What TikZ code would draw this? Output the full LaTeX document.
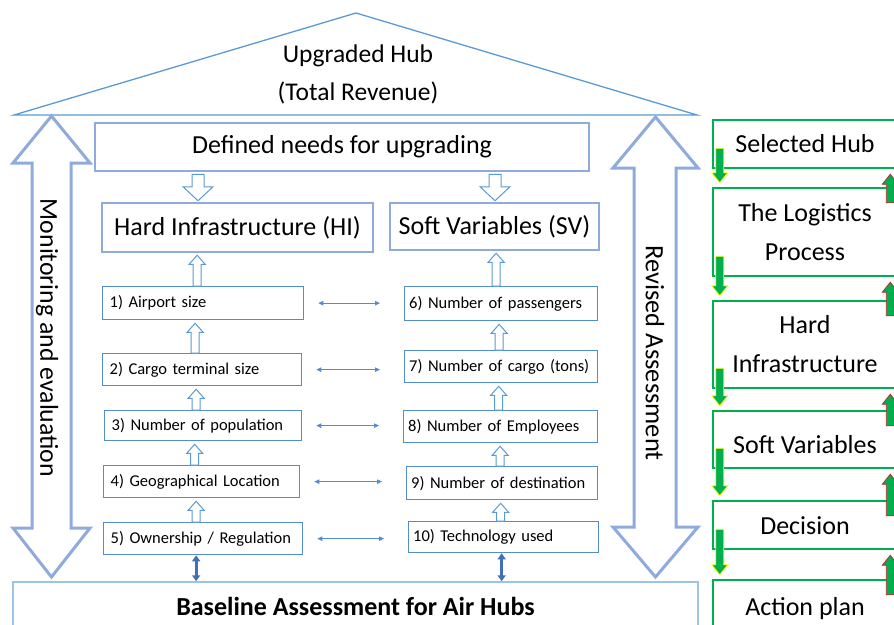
\documentclass[tikz,border=0pt]{standalone}
\usepackage{fontspec}
\setmainfont{Carlito}
\usetikzlibrary{calc,arrows.meta}

\definecolor{roofblue}{RGB}{91,155,213}
\definecolor{paleblue}{RGB}{143,170,220}
\definecolor{itemblue}{RGB}{84,141,205}
\definecolor{baseblue}{RGB}{157,195,230}
\definecolor{darkblue}{RGB}{65,113,180}
\definecolor{hubgreen}{RGB}{0,176,80}
\definecolor{tipyellow}{RGB}{255,255,0}
\definecolor{tipred}{RGB}{200,40,40}

% block arrow: style, start, tip, half shaft, half head, signed head length
\newcommand\blockarrow[6]{%
  \path[#1] let \p1=(#2), \p2=(#3) in
    (\x1-#4,\y1) -- (\x1-#4,\y2#6) -- (\x1-#5,\y2#6) -- (\x1,\y2)
    -- (\x1+#5,\y2#6) -- (\x1+#4,\y2#6) -- (\x1+#4,\y1) -- cycle;}

\begin{document}
\begin{tikzpicture}[x=1pt,y=-1pt,
  bigfont/.style={font=\fontsize{26}{31}\selectfont},
  headbox/.style={draw=paleblue, line width=2.5pt, bigfont, inner sep=0pt},
  item/.style={draw=itemblue, line width=1.3pt, font=\fontsize{16.5}{20}\selectfont,
    align=left, inner xsep=7pt, inner ysep=0pt, anchor=north west},
  itemr/.style={item, inner xsep=4.5pt},
  stepbox/.style={draw=hubgreen, line width=2.5pt, bigfont, align=center,
    inner sep=0pt, minimum width=184pt},
  hollow/.style={draw=roofblue, line width=1pt, fill=white},
  bigarrow/.style={draw=paleblue, line width=3pt, fill=white, line join=miter},
  link/.style={draw=itemblue, line width=0.8pt, {Triangle[length=5pt,width=4.5pt]}-{Triangle[length=5pt,width=4.5pt]}},
  feed/.style={draw=darkblue, line width=3pt, {Triangle[length=6pt,width=8pt]}-{Triangle[length=6pt,width=8pt]}},
  godown/.style={fill=hubgreen, draw=tipyellow, line width=0.8pt},
  goup/.style={fill=hubgreen, draw=tipred, line width=0.8pt},
]
\useasboundingbox (0,0) rectangle (894,624);
\clip (0,0) rectangle (894,624);
\fill[white] (0,0) rectangle (894,624);

% roof
\draw[roofblue, line width=1.3pt, line join=miter] (14,115) -- (356,13) -- (697,115) -- cycle;
\node[font=\fontsize{25.5}{38}\selectfont, align=center] (roof) at (358,74) {Upgraded Hub\\(Total Revenue)};

% side double arrows
\draw[bigarrow] (51.5,116) -- (90,163) -- (71,163) -- (71,528) -- (90,528) -- (51.5,577)
  -- (13,528) -- (32,528) -- (32,163) -- (13,163) -- cycle;
\node[rotate=-90, font=\fontsize{25.8}{30}\selectfont] (monitor) at (47,338) {Monitoring and evaluation};
\draw[bigarrow] (655.5,117) -- (698,168) -- (676,168) -- (676,527) -- (698,527) -- (655.5,577)
  -- (613,527) -- (634,527) -- (634,168) -- (613,168) -- cycle;
\node[rotate=-90, font=\fontsize{26.5}{30}\selectfont] (revised) at (655,353) {Revised Assessment};

% headline boxes
\node[headbox, minimum width=494pt, minimum height=48pt] (def) at (342,147) {Defined needs for upgrading};
\node[headbox, minimum width=271pt, minimum height=49pt] (hi) at (237.5,227.5) {Hard Infrastructure (HI)};
\node[headbox, minimum width=209pt, minimum height=47pt] (sv) at (494.5,226.5) {Soft Variables (SV)};

% hard infrastructure items
\node[item, text width=187pt, minimum height=33pt] (h1) at (102,286) {1) Airport size};
\node[item, text width=185pt, minimum height=32pt] (h2) at (102,353) {2) Cargo terminal size};
\node[item, text width=183pt, minimum height=30pt] (h3) at (104,410) {3) Number of population};
\node[item, text width=182pt, minimum height=32pt] (h4) at (103,465) {4) Geographical Location};
\node[item, text width=185pt, minimum height=32pt] (h5) at (103,522) {5) Ownership / Regulation};

% soft variable items
\node[itemr, text width=184pt, minimum height=34pt] (s1) at (404,286) {6) Number of passengers};
\node[itemr, text width=184pt, minimum height=32pt] (s2) at (404,350) {7) Number of cargo (tons)};
\node[itemr, text width=185pt, minimum height=32pt] (s3) at (403,410) {8) Number of Employees};
\node[itemr, text width=182pt, minimum height=33pt] (s4) at (406,466) {9) Number of destination};
\node[itemr, text width=181pt, minimum height=31pt] (s5) at (408,521) {10) Technology used};

% baseline
\node[draw=baseblue, line width=1.5pt, minimum width=685pt, minimum height=48pt,
  font=\fontsize{26}{31}\selectfont\bfseries] (base) at (355.5,606) {Baseline Assessment for Air Hubs};

% needs split into the two groups
\blockarrow{hollow}{$(def.south)+(-144,2)$}{$(hi.north)+(0,-1)$}{6pt}{15pt}{+14pt}
\blockarrow{hollow}{$(def.south)+(153,2)$}{$(sv.north)+(0,-1)$}{6pt}{15pt}{+14pt}

% items feeding upwards
\blockarrow{hollow}{$(h1.north)+(-6,0)$}{$(hi.south)+(0,2)$}{4pt}{8pt}{-9pt}
\blockarrow{hollow}{$(h2.north)+(-7,0)$}{$(h1.south)+(0,3)$}{4pt}{8pt}{-9pt}
\blockarrow{hollow}{$(h3.north)+(-7,0)$}{$(h2.south)+(0,3)$}{4pt}{8pt}{-9pt}
\blockarrow{hollow}{$(h4.north)+(-7,0)$}{$(h3.south)+(0,3)$}{4pt}{8pt}{-9pt}
\blockarrow{hollow}{$(h5.north)+(-7,0)$}{$(h4.south)+(0,3)$}{4pt}{8pt}{-9pt}
\blockarrow{hollow}{$(s1.north)+(-5,0)$}{$(sv.south)+(0,2)$}{4pt}{8pt}{-9pt}
\blockarrow{hollow}{$(s2.north)+(-2,0)$}{$(s1.south)+(0,3)$}{4pt}{8pt}{-9pt}
\blockarrow{hollow}{$(s3.north)+(-2,0)$}{$(s2.south)+(0,3)$}{4pt}{8pt}{-9pt}
\blockarrow{hollow}{$(s4.north)+(-2,0)$}{$(s3.south)+(0,3)$}{4pt}{8pt}{-9pt}
\blockarrow{hollow}{$(s5.north)+(-3,0)$}{$(s4.south)+(0,3)$}{4pt}{8pt}{-9pt}

% pairwise links
\foreach \i in {1,...,5}
  \draw[link, shorten <=14pt, shorten >=24pt] (h\i.east) -- (h\i.east -| s\i.west);

% links to the baseline
\draw[feed] ($(h5.south)+(-7,0)$) coordinate (fa) -- (fa |- base.north);
\draw[feed] ($(s5.south)+(-2,0)$) coordinate (fb) -- (fb |- base.north);

% process column
\node[stepbox, minimum height=48pt] (r1) at (805,144) {Selected Hub};
\node[stepbox, minimum height=88pt, font=\fontsize{26}{39}\selectfont] (r2) at (805,232) {The Logistics\\Process};
\node[stepbox, minimum height=87pt, font=\fontsize{26}{39}\selectfont] (r3) at (805,344.5) {Hard\\Infrastructure};
\node[stepbox, minimum height=57pt, text height=28pt, text depth=0pt] (r4) at (805,439.5) {Soft Variables};
\node[stepbox, minimum height=48pt, text height=20pt, text depth=1pt] (r5) at (805,525) {Decision};
\node[stepbox, minimum height=52pt, text height=19pt, text depth=1pt] (r6) at (805,606) {Action plan};

\foreach \a/\b in {r1/r2,r2/r3,r3/r4,r4/r5,r5/r6} {
  \blockarrow{godown}{$(\a.south west)+(8,-21)$}{$(\b.north west)+(8,-4)$}{4pt}{8pt}{+10pt}
  \blockarrow{goup}{$(\b.north east)+(-8,16)$}{$(\a.south east)+(-8,5)$}{4pt}{8pt}{-10pt}
}
\end{tikzpicture}
\end{document}
